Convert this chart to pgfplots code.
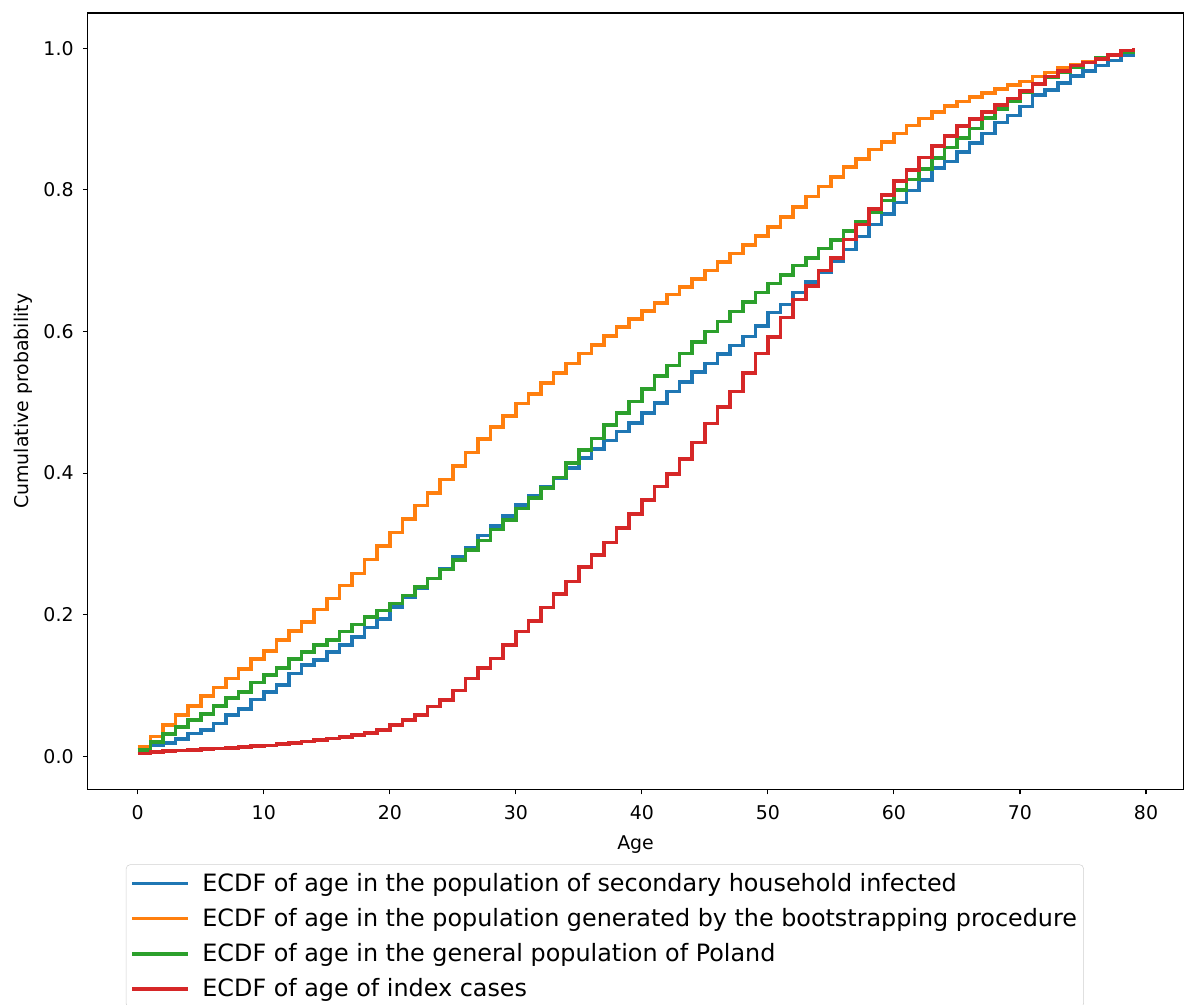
\documentclass[border=0pt]{standalone}
\usepackage{fontspec}
\setmainfont{DejaVu Sans}
\usepackage{pgfplots}
\usepackage{pgfplotstable}
\pgfplotsset{compat=1.18}

\definecolor{tabblue}{HTML}{1F77B4}
\definecolor{taborange}{HTML}{FF7F0E}
\definecolor{tabgreen}{HTML}{2CA02C}
\definecolor{tabred}{HTML}{D62728}

% ECDF values per age: secondary infected, bootstrap, Poland, index cases
\pgfplotstableread{
age sec   boot  pol   idx
0   0.009 0.013 0.009 0.004
1   0.015 0.028 0.020 0.006
2   0.019 0.044 0.031 0.007
3   0.024 0.058 0.041 0.008
4   0.032 0.071 0.051 0.009
5   0.037 0.085 0.060 0.010
6   0.046 0.097 0.071 0.011
7   0.058 0.110 0.082 0.012
8   0.067 0.123 0.091 0.013
9   0.080 0.137 0.104 0.014
10  0.091 0.149 0.115 0.015
11  0.101 0.164 0.125 0.017
12  0.117 0.177 0.137 0.019
13  0.129 0.190 0.147 0.021
14  0.136 0.207 0.157 0.023
15  0.147 0.223 0.164 0.025
16  0.157 0.241 0.176 0.027
17  0.168 0.258 0.186 0.030
18  0.182 0.278 0.197 0.033
19  0.194 0.297 0.206 0.037
20  0.211 0.316 0.216 0.044
21  0.224 0.335 0.227 0.051
22  0.237 0.354 0.239 0.058
23  0.251 0.372 0.251 0.070
24  0.265 0.391 0.264 0.079
25  0.281 0.410 0.277 0.093
26  0.295 0.429 0.291 0.110
27  0.312 0.448 0.305 0.125
28  0.325 0.465 0.320 0.138
29  0.339 0.481 0.334 0.157
30  0.355 0.498 0.350 0.176
31  0.368 0.512 0.365 0.191
32  0.381 0.527 0.379 0.210
33  0.393 0.541 0.394 0.229
34  0.407 0.555 0.414 0.247
35  0.421 0.569 0.433 0.267
36  0.434 0.581 0.449 0.284
37  0.446 0.594 0.468 0.302
38  0.459 0.606 0.485 0.322
39  0.471 0.618 0.501 0.342
40  0.485 0.629 0.519 0.362
41  0.499 0.640 0.537 0.381
42  0.515 0.652 0.552 0.399
43  0.529 0.663 0.569 0.420
44  0.543 0.674 0.585 0.443
45  0.555 0.686 0.600 0.470
46  0.568 0.698 0.614 0.493
47  0.580 0.710 0.628 0.515
48  0.593 0.722 0.642 0.541
49  0.608 0.735 0.655 0.569
50  0.627 0.748 0.668 0.592
51  0.638 0.762 0.680 0.620
52  0.655 0.776 0.693 0.645
53  0.670 0.791 0.704 0.664
54  0.684 0.805 0.717 0.686
55  0.700 0.818 0.729 0.704
56  0.716 0.832 0.742 0.730
57  0.734 0.844 0.755 0.751
58  0.751 0.857 0.769 0.773
59  0.766 0.868 0.785 0.793
60  0.782 0.880 0.800 0.813
61  0.799 0.891 0.815 0.828
62  0.814 0.901 0.830 0.846
63  0.831 0.910 0.845 0.862
64  0.840 0.919 0.860 0.876
65  0.854 0.925 0.873 0.890
66  0.866 0.931 0.887 0.900
67  0.880 0.937 0.902 0.910
68  0.895 0.943 0.914 0.920
69  0.905 0.948 0.926 0.929
70  0.918 0.953 0.938 0.940
71  0.934 0.960 0.950 0.950
72  0.941 0.966 0.959 0.960
73  0.951 0.972 0.967 0.968
74  0.961 0.977 0.973 0.976
75  0.968 0.981 0.980 0.980
76  0.976 0.987 0.986 0.985
77  0.983 0.991 0.991 0.991
78  0.991 0.996 0.995 0.997
79  0.993 1.000 1.000 1.000
}\ecdf

\begin{document}
\begin{tikzpicture}
% page = 1184 x 1005 px at 0.75pt per px; legend is cut at the bottom
\useasboundingbox (-66pt,-161.25pt) rectangle (822.6pt,592.5pt);
\clip (-66pt,-161.25pt) rectangle (822.6pt,592.5pt);
\begin{axis}[
  at={(0pt,0pt)}, anchor=south west,
  scale only axis,
  width=822pt, height=582.75pt,
  xmin=-3.95, xmax=82.95,
  ymin=-0.047, ymax=1.05,
  xtick={0,10,...,80},
  ytick={0,0.2,...,1.0},
  yticklabel style={/pgf/number format/.cd, fixed, fixed zerofill, precision=1},
  /pgf/number format/assume math mode=true,
  tick align=outside,
  xtick pos=bottom, ytick pos=left,
  major tick length=3.75pt,
  xticklabel shift=4.5pt, yticklabel shift=3.5pt,
  tick style={black, line width=0.8pt},
  axis line style={line width=0.8pt},
  ticklabel style={font=\fontsize{14.2}{17}\selectfont},
  label style={font=\fontsize{14.2}{17}\selectfont},
  xlabel={Age},
  xlabel style={yshift=-5.5pt},
  ylabel={Cumulative probability},
  ylabel style={yshift=1.5pt},
  legend cell align=left,
  legend style={
    at={(0.0347,-0.0965)}, anchor=north west,
    draw=black!18, rounded corners=3pt,
    font=\fontsize{17.9}{21}\selectfont,
    row sep=7.3pt, inner xsep=3pt, inner ysep=4.5pt,
  },
  legend image code/.code={\draw[#1, line width=2.7pt] (0pt,0pt) -- (42pt,0pt); \path (49.5pt,0pt);},
  every axis plot/.append style={const plot, line width=2.7pt, mark=none},
]
\addplot[tabblue] table[x=age, y=sec] {\ecdf};
\addlegendentry{ECDF of age in the population of secondary household infected}
\addplot[taborange] table[x=age, y=boot] {\ecdf};
\addlegendentry{ECDF of age in the population generated by the bootstrapping procedure}
\addplot[tabgreen] table[x=age, y=pol] {\ecdf};
\addlegendentry{ECDF of age in the general population of Poland}
\addplot[tabred] table[x=age, y=idx] {\ecdf};
\addlegendentry{ECDF of age of index cases}
\end{axis}
\end{tikzpicture}
\end{document}
